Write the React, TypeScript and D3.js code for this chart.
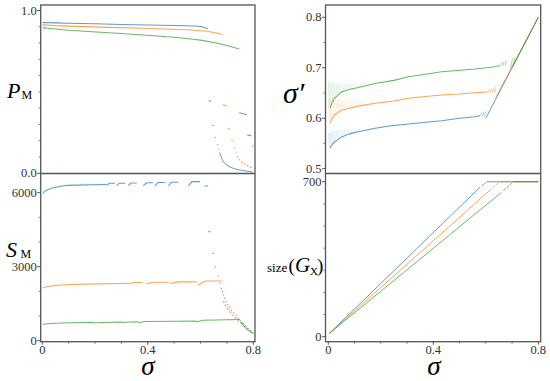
import React from "react";
import * as d3 from "d3";

type P = [number, number];
type Seg = [number, number, number, number];
type Tooth = [number, number, number];
type Step = [number, number, number, number];

const BLUE = "#1f77b4";
const ORANGE = "#ff7f0e";
const GREEN = "#2ca02c";

// ---------- ticks ----------
const sigmaTicks = [0, 0.4, 0.8];
const sigmaTickLabels = ["0", "0.4", "0.8"];
const sigmaMinor = [0.1, 0.2, 0.3, 0.5, 0.6, 0.7];
const pmTicks = [0, 1];
const pmTickLabels = ["0.0", "1.0"];
const pmMinor = [0.1, 0.2, 0.3, 0.4, 0.5, 0.6, 0.7, 0.8, 0.9];
const spTicks = [0.5, 0.6, 0.7, 0.8];
const spTickLabels = ["0.5", "0.6", "0.7", "0.8"];
const spMinor = [0.55, 0.65, 0.75];
const smTicks = [0, 3000, 6000];
const smTickLabels = ["0", "3000", "6000"];
const smMinor = [1000, 2000, 4000, 5000];
const gxTicks = [0, 700];
const gxTickLabels = ["0", "700"];
const gxMinor = [100, 200, 300, 400, 500, 600];

// ---------- P_M (top left) ----------
const pmBlue: P[] = [[0.002, 0.926], [0.05, 0.924], [0.1, 0.922], [0.2, 0.918], [0.3, 0.914], [0.4, 0.911], [0.5, 0.908], [0.58, 0.905], [0.6, 0.902], [0.615, 0.895], [0.627, 0.888]];
const pmOrange: P[] = [[0.002, 0.912], [0.05, 0.907], [0.1, 0.904], [0.22, 0.898], [0.41, 0.89], [0.55, 0.882], [0.6, 0.876], [0.62, 0.874], [0.65, 0.865], [0.67, 0.858], [0.682, 0.852]];
const pmGreen: P[] = [[0.002, 0.894], [0.05, 0.886], [0.1, 0.879], [0.22, 0.867], [0.3, 0.859], [0.41, 0.847], [0.5, 0.836], [0.58, 0.822], [0.6, 0.818], [0.66, 0.8], [0.7, 0.785], [0.747, 0.763]];
const pmStartSpread: Seg[] = [[0.004, 0.87, 0.004, 0.935], [0.008, 0.875, 0.008, 0.93], [0.012, 0.88, 0.012, 0.925]];
const pmBlueDrop: Seg[] = [[0.631, 0.447, 0.64, 0.441], [0.645, 0.296, 0.649, 0.292], [0.655, 0.222, 0.658, 0.219], [0.663, 0.178, 0.666, 0.175], [0.669, 0.149, 0.671, 0.146]];
const pmBlueTail: P[] = [[0.673, 0.128], [0.68, 0.092], [0.69, 0.063], [0.7, 0.05], [0.712, 0.039], [0.725, 0.03], [0.743, 0.022], [0.76, 0.017], [0.775, 0.013], [0.798, 0.008]];
const pmOrangeDrop: Seg[] = [[0.684, 0.421, 0.7, 0.414], [0.704, 0.277, 0.712, 0.271], [0.717, 0.204, 0.722, 0.2], [0.726, 0.16, 0.73, 0.156], [0.733, 0.127, 0.736, 0.123]];
const pmOrangeTail: P[] = [[0.738, 0.106], [0.747, 0.084], [0.756, 0.069], [0.769, 0.055], [0.781, 0.043], [0.794, 0.035], [0.8, 0.032]];
const pmGreenDrop: Seg[] = [[0.746, 0.372, 0.776, 0.36], [0.777, 0.236, 0.793, 0.23], [0.795, 0.168, 0.8, 0.165]];

// ---------- sigma' (top right) ----------
const spBlue: P[] = [[0.006, 0.541], [0.015, 0.548], [0.025, 0.5535], [0.04, 0.559], [0.051, 0.563], [0.08, 0.569], [0.114, 0.573], [0.178, 0.58], [0.24, 0.585], [0.305, 0.5886], [0.37, 0.592], [0.432, 0.595], [0.5, 0.6], [0.559, 0.603], [0.578, 0.605]];
const spOrange: P[] = [[0.006, 0.59], [0.015, 0.6], [0.025, 0.607], [0.051, 0.616], [0.08, 0.62], [0.114, 0.624], [0.178, 0.6296], [0.25, 0.634], [0.305, 0.6395], [0.37, 0.643], [0.432, 0.646], [0.5, 0.648], [0.559, 0.6506], [0.605, 0.652]];
const spGreen: P[] = [[0.006, 0.62], [0.015, 0.632], [0.025, 0.64], [0.051, 0.6526], [0.08, 0.657], [0.114, 0.661], [0.178, 0.669], [0.25, 0.675], [0.305, 0.682], [0.37, 0.687], [0.432, 0.692], [0.5, 0.695], [0.559, 0.6975], [0.62, 0.701], [0.654, 0.704]];
const spBlueDiag: P[] = [[0.6, 0.6], [0.8, 0.8]];
const spOrangeDiag: P[] = [[0.64, 0.643], [0.8, 0.8]];
const spGreenDiag: P[] = [[0.703, 0.703], [0.8, 0.8]];
const spBlueSlash: Seg[] = [[0.58, 0.604, 0.585, 0.611], [0.587, 0.604, 0.592, 0.612], [0.594, 0.603, 0.6, 0.614]];
const spOrangeSlash: Seg[] = [[0.608, 0.651, 0.613, 0.658], [0.616, 0.651, 0.621, 0.659], [0.624, 0.651, 0.63, 0.661], [0.632, 0.65, 0.638, 0.663]];
const spGreenSlash: Seg[] = [[0.657, 0.704, 0.662, 0.711], [0.665, 0.704, 0.67, 0.712], [0.673, 0.704, 0.679, 0.714], [0.694, 0.7, 0.702, 0.718], [0.703, 0.701, 0.711, 0.722]];
const spBlueFan: Tooth[] = [[0.004, 0.54, 0.57], [0.009, 0.545, 0.572], [0.014, 0.548, 0.573], [0.02, 0.551, 0.574], [0.026, 0.554, 0.575], [0.033, 0.557, 0.576], [0.04, 0.559, 0.576], [0.048, 0.562, 0.577], [0.057, 0.564, 0.577], [0.066, 0.566, 0.578], [0.076, 0.568, 0.578], [0.087, 0.57, 0.579], [0.099, 0.572, 0.579], [0.112, 0.573, 0.58]];
const spOrangeFan: Tooth[] = [[0.004, 0.587, 0.64], [0.009, 0.595, 0.64], [0.014, 0.6, 0.639], [0.02, 0.604, 0.639], [0.026, 0.607, 0.638], [0.033, 0.61, 0.638], [0.04, 0.612, 0.637], [0.048, 0.614, 0.637], [0.057, 0.616, 0.636], [0.066, 0.618, 0.636], [0.076, 0.619, 0.635], [0.087, 0.62, 0.635], [0.099, 0.622, 0.634], [0.112, 0.623, 0.634], [0.126, 0.625, 0.633], [0.141, 0.626, 0.633]];
const spGreenFan: Tooth[] = [[0.004, 0.617, 0.672], [0.009, 0.628, 0.672], [0.014, 0.634, 0.671], [0.02, 0.638, 0.671], [0.026, 0.641, 0.67], [0.033, 0.644, 0.67], [0.04, 0.647, 0.669], [0.048, 0.649, 0.669], [0.057, 0.651, 0.669], [0.066, 0.653, 0.668], [0.076, 0.655, 0.668], [0.087, 0.656, 0.668], [0.099, 0.658, 0.668], [0.112, 0.66, 0.668], [0.126, 0.661, 0.668], [0.141, 0.663, 0.669]];

// ---------- S_M (bottom left) ----------
const smBlue: P[] = [[0.002, 5960], [0.01, 6060], [0.02, 6120], [0.035, 6180], [0.05, 6220], [0.07, 6260], [0.09, 6290], [0.12, 6300], [0.16, 6310], [0.2, 6320], [0.244, 6330]];
const smBlueComb: Tooth[] = [[0.095, 6280, 6350], [0.103, 6285, 6352], [0.111, 6288, 6355], [0.119, 6290, 6357], [0.127, 6292, 6360], [0.135, 6294, 6362], [0.143, 6296, 6364], [0.151, 6298, 6366], [0.16, 6300, 6368], [0.169, 6302, 6370], [0.178, 6304, 6372], [0.188, 6306, 6374], [0.198, 6308, 6376], [0.209, 6310, 6378], [0.22, 6312, 6380], [0.232, 6314, 6382]];
const smBlueTeeth: Step[] = [[0.244, 0.276, 6290, 6380], [0.282, 0.314, 6290, 6385], [0.326, 0.358, 6285, 6390], [0.383, 0.421, 6275, 6400], [0.427, 0.465, 6275, 6410], [0.478, 0.516, 6270, 6420], [0.554, 0.598, 6280, 6450], [0.615, 0.629, 6270, 6270]];
const smBlueDrop: Seg[] = [[0.63, 4430, 0.637, 4410], [0.646, 3550, 0.65, 3530], [0.655, 3010, 0.659, 2990], [0.665, 2630, 0.668, 2610], [0.672, 2340, 0.675, 2320]];
const smBlueTail: P[] = [[0.678, 2150], [0.684, 1950], [0.69, 1780], [0.696, 1600], [0.705, 1420], [0.715, 1250], [0.73, 1080], [0.745, 900], [0.76, 720], [0.775, 560], [0.79, 400], [0.8, 300]];
const smOrange: P[] = [[0.002, 2140], [0.02, 2200], [0.05, 2240], [0.09, 2270], [0.15, 2290], [0.2, 2300], [0.25, 2310], [0.3, 2320], [0.33, 2325]];
const smOrangeComb: Tooth[] = [[0.1, 2265, 2320], [0.11, 2268, 2322], [0.12, 2270, 2324], [0.13, 2272, 2326], [0.14, 2274, 2328], [0.15, 2276, 2330], [0.161, 2278, 2332], [0.172, 2280, 2334], [0.184, 2282, 2336], [0.197, 2284, 2338], [0.21, 2286, 2340], [0.224, 2288, 2342], [0.24, 2290, 2344]];
const smOrangeTeeth: Step[] = [[0.33, 0.38, 2300, 2360], [0.395, 0.48, 2310, 2370], [0.485, 0.585, 2320, 2385], [0.59, 0.68, 2250, 2420]];
const smOrangeTail: P[] = [[0.686, 1620], [0.692, 1480], [0.7, 1330], [0.71, 1180], [0.72, 1060], [0.735, 900], [0.75, 760], [0.765, 600], [0.78, 450], [0.8, 300]];
const smGreen: P[] = [[0.002, 670], [0.03, 700], [0.08, 720], [0.15, 735], [0.19, 745], [0.195, 715], [0.22, 740], [0.3, 760], [0.31, 735], [0.33, 760], [0.36, 770], [0.37, 740], [0.39, 775], [0.5, 790], [0.58, 800], [0.585, 770], [0.61, 830], [0.7, 850], [0.75, 860]];
const smGreenTail: P[] = [[0.752, 760], [0.76, 650], [0.77, 540], [0.78, 440], [0.79, 360], [0.8, 300]];

// ---------- size(G_X) (bottom right) ----------
const gxBlue: P[] = [[0.004, 15], [0.578, 675]];
const gxOrange: P[] = [[0.004, 15], [0.622, 668]];
const gxGreen: P[] = [[0.004, 15], [0.66, 652]];
const gxBlueStep: Seg[] = [[0.585, 680, 0.592, 688], [0.594, 690, 0.6, 696]];
const gxOrangeStep: Seg[] = [[0.628, 675, 0.636, 684], [0.64, 686, 0.648, 694]];
const gxGreenStep: Seg[] = [[0.667, 660, 0.676, 670], [0.68, 673, 0.69, 684], [0.693, 686, 0.7, 694]];
const gxBluePlateau: P[] = [[0.603, 700], [0.8, 700]];
const gxOrangePlateau: P[] = [[0.655, 700], [0.8, 700]];
const gxGreenPlateau: P[] = [[0.705, 700], [0.8, 700]];

// ---------- layout ----------
const FRAME = "#555";
const SERIF = "'Liberation Serif', 'Times New Roman', serif";
const LX0 = 40.7, LX1 = 255;
const RX0 = 325.5, RX1 = 540.7;
const TY0 = 5, MY = 173.5, BY1 = 341.7;

const xL = d3.scaleLinear().domain([0, 0.8]).range([42.3, 253.3]);
const xR = d3.scaleLinear().domain([0, 0.8]).range([328.3, 538.3]);
const yPM = d3.scaleLinear().domain([0, 1]).range([173.3, 10.5]);
const ySP = d3.scaleLinear().domain([0.5, 0.8]).range([168.7, 17.3]);
const ySM = d3.scaleLinear().domain([0, 6000]).range([340.7, 192.7]);
const yGX = d3.scaleLinear().domain([0, 700]).range([336.7, 181.7]);

type Sc = d3.ScaleLinear<number, number>;

const LW = 1.05;
const LOP = 0.72;

function Series({ xs, ys, data, color, op = LOP, w = LW, dash }: { xs: Sc; ys: Sc; data: P[]; color: string; op?: number; w?: number; dash?: string }) {
  const line = d3.line<P>().x((d) => xs(d[0])).y((d) => ys(d[1]));
  return <path d={line(data) || ""} fill="none" stroke={color} strokeOpacity={op} strokeWidth={w} strokeDasharray={dash} strokeLinecap="butt" strokeLinejoin="round" />;
}

function Segs({ xs, ys, data, color, op = LOP, w = 1.2 }: { xs: Sc; ys: Sc; data: Seg[]; color: string; op?: number; w?: number }) {
  return (
    <g stroke={color} strokeOpacity={op} strokeWidth={w}>
      {data.map((s, i) => (
        <line key={i} x1={xs(s[0])} y1={ys(s[1])} x2={xs(s[2])} y2={ys(s[3])} />
      ))}
    </g>
  );
}

function Fan({ xs, ys, data, color, op = 0.22, w = 0.7, lean = 0.004 }: { xs: Sc; ys: Sc; data: Tooth[]; color: string; op?: number; w?: number; lean?: number }) {
  return (
    <g stroke={color} strokeOpacity={op} strokeWidth={w} fill="none">
      {data.map((t, i) => (
        <path key={i} d={`M${xs(t[0] - lean)},${ys(t[2])} Q${xs(t[0])},${ys(t[1])} ${xs(t[0] + lean * 1.5)},${ys(t[1])}`} />
      ))}
    </g>
  );
}

function Comb({ xs, ys, data, color, op = 0.4, w = 0.8 }: { xs: Sc; ys: Sc; data: Tooth[]; color: string; op?: number; w?: number }) {
  return (
    <g stroke={color} strokeOpacity={op} strokeWidth={w}>
      {data.map((t, i) => (
        <line key={i} x1={xs(t[0])} y1={ys(t[1])} x2={xs(t[0]) + 0.8} y2={ys(t[2])} />
      ))}
    </g>
  );
}

function Teeth({ xs, ys, data, color, op = LOP, w = LW }: { xs: Sc; ys: Sc; data: Step[]; color: string; op?: number; w?: number }) {
  return (
    <g stroke={color} strokeOpacity={op} strokeWidth={w} fill="none">
      {data.map((t, i) => {
        const a = xs(t[0]), b = xs(t[1]);
        const m = a + (b - a) * 0.3;
        return <path key={i} d={`M${a},${ys(t[2])} L${m},${ys(t[3])} L${b},${ys(t[3])}`} />;
      })}
    </g>
  );
}

function YAxis({ x, ys, ticks, labels, minor }: { x: number; ys: Sc; ticks: number[]; labels: string[]; minor: number[] }) {
  return (
    <g>
      {ticks.map((t, i) => (
        <g key={"t" + i}>
          <line x1={x - 3.5} x2={x} y1={ys(t)} y2={ys(t)} stroke={FRAME} strokeWidth={1} />
          <text x={x - 4} y={ys(t)} dy="0.33em" textAnchor="end" fontFamily={SERIF} fontSize={12.5} fill="#333">
            {labels[i]}
          </text>
        </g>
      ))}
      {minor.map((t, i) => (
        <line key={"m" + i} x1={x - 2} x2={x} y1={ys(t)} y2={ys(t)} stroke={FRAME} strokeWidth={0.8} />
      ))}
    </g>
  );
}

function XAxis({ y, xs }: { y: number; xs: Sc }) {
  return (
    <g>
      {sigmaTicks.map((t, i) => (
        <g key={"t" + i}>
          <line x1={xs(t)} x2={xs(t)} y1={y} y2={y + 3} stroke={FRAME} strokeWidth={1} />
          <text x={xs(t)} y={y + 12.5} textAnchor="middle" fontFamily={SERIF} fontSize={12.5} fill="#333">
            {sigmaTickLabels[i]}
          </text>
        </g>
      ))}
      {sigmaMinor.map((t, i) => (
        <line key={"m" + i} x1={xs(t)} x2={xs(t)} y1={y} y2={y + 2} stroke={FRAME} strokeWidth={0.8} />
      ))}
    </g>
  );
}

export default function App() {
  return (
    <svg width={550} height={381} viewBox="0 0 550 381" style={{ position: "absolute", left: 0, top: 0, background: "#fff" }}>
      <rect x={0} y={0} width={550} height={381} fill="#fff" />

      {/* ---- top left: P_M ---- */}
      <Segs xs={xL} ys={yPM} data={pmStartSpread} color={GREEN} op={0.2} w={0.8} />
      <Series xs={xL} ys={yPM} data={pmBlue} color={BLUE} />
      <Series xs={xL} ys={yPM} data={pmOrange} color={ORANGE} />
      <Series xs={xL} ys={yPM} data={pmGreen} color={GREEN} />
      <Segs xs={xL} ys={yPM} data={pmBlueDrop} color={BLUE} />
      <Series xs={xL} ys={yPM} data={pmBlueTail} color={BLUE} w={1} />
      <Segs xs={xL} ys={yPM} data={pmOrangeDrop} color={ORANGE} />
      <Series xs={xL} ys={yPM} data={pmOrangeTail} color={ORANGE} w={1.1} dash="2,1.5" />
      <Segs xs={xL} ys={yPM} data={pmGreenDrop} color={GREEN} />

      {/* ---- top right: sigma' ---- */}
      <Fan xs={xR} ys={ySP} data={spBlueFan} color={BLUE} />
      <Fan xs={xR} ys={ySP} data={spOrangeFan} color={ORANGE} />
      <Fan xs={xR} ys={ySP} data={spGreenFan} color={GREEN} />
      <Series xs={xR} ys={ySP} data={spBlue} color={BLUE} />
      <Segs xs={xR} ys={ySP} data={spBlueSlash} color={BLUE} op={0.5} w={0.8} />
      <Series xs={xR} ys={ySP} data={spBlueDiag} color={BLUE} w={1} />
      <Series xs={xR} ys={ySP} data={spOrange} color={ORANGE} />
      <Segs xs={xR} ys={ySP} data={spOrangeSlash} color={ORANGE} op={0.5} w={0.8} />
      <Series xs={xR} ys={ySP} data={spOrangeDiag} color={ORANGE} w={1} />
      <Series xs={xR} ys={ySP} data={spGreen} color={GREEN} />
      <Segs xs={xR} ys={ySP} data={spGreenSlash} color={GREEN} op={0.5} w={0.8} />
      <Series xs={xR} ys={ySP} data={spGreenDiag} color={GREEN} w={1} />

      {/* ---- bottom left: S_M ---- */}
      <Series xs={xL} ys={ySM} data={smBlue} color={BLUE} />
      <Comb xs={xL} ys={ySM} data={smBlueComb} color={BLUE} />
      <Teeth xs={xL} ys={ySM} data={smBlueTeeth} color={BLUE} />
      <Segs xs={xL} ys={ySM} data={smBlueDrop} color={BLUE} />
      <Series xs={xL} ys={ySM} data={smBlueTail} color={BLUE} w={1} dash="1.5,2" />
      <Series xs={xL} ys={ySM} data={smOrange} color={ORANGE} />
      <Comb xs={xL} ys={ySM} data={smOrangeComb} color={ORANGE} />
      <Teeth xs={xL} ys={ySM} data={smOrangeTeeth} color={ORANGE} />
      <Series xs={xL} ys={ySM} data={smOrangeTail} color={ORANGE} w={1.1} dash="2.5,1.5" />
      <Series xs={xL} ys={ySM} data={smGreen} color={GREEN} />
      <Series xs={xL} ys={ySM} data={smGreenTail} color={GREEN} w={1.1} />

      {/* ---- bottom right: size(G_X) ---- */}
      <Series xs={xR} ys={yGX} data={gxBlue} color={BLUE} w={1} />
      <Segs xs={xR} ys={yGX} data={gxBlueStep} color={BLUE} w={1} />
      <Series xs={xR} ys={yGX} data={gxBluePlateau} color={BLUE} />
      <Series xs={xR} ys={yGX} data={gxOrange} color={ORANGE} w={1} />
      <Segs xs={xR} ys={yGX} data={gxOrangeStep} color={ORANGE} w={1} />
      <Series xs={xR} ys={yGX} data={gxOrangePlateau} color={ORANGE} />
      <Series xs={xR} ys={yGX} data={gxGreen} color={GREEN} w={1} />
      <Segs xs={xR} ys={yGX} data={gxGreenStep} color={GREEN} w={1} />
      <Series xs={xR} ys={yGX} data={gxGreenPlateau} color={GREEN} />

      {/* ---- frames ---- */}
      <g fill="none" stroke={FRAME} strokeWidth={1.3}>
        <rect x={LX0} y={TY0} width={LX1 - LX0} height={BY1 - TY0} />
        <line x1={LX0} x2={LX1} y1={MY} y2={MY} />
        <rect x={RX0} y={TY0} width={RX1 - RX0} height={BY1 - TY0} />
        <line x1={RX0} x2={RX1} y1={MY} y2={MY} />
      </g>

      {/* ---- axes ---- */}
      <YAxis x={LX0} ys={yPM} ticks={pmTicks} labels={pmTickLabels} minor={pmMinor} />
      <YAxis x={RX0} ys={ySP} ticks={spTicks} labels={spTickLabels} minor={spMinor} />
      <YAxis x={LX0} ys={ySM} ticks={smTicks} labels={smTickLabels} minor={smMinor} />
      <YAxis x={RX0} ys={yGX} ticks={gxTicks} labels={gxTickLabels} minor={gxMinor} />
      <XAxis y={BY1} xs={xL} />
      <XAxis y={BY1} xs={xR} />

      {/* ---- axis titles ---- */}
      <g fontFamily={SERIF} fill="#000">
        <text x={7} y={98} fontSize={22} fontStyle="italic">P</text>
        <text x={21.5} y={99} fontSize={12}>M</text>
        <text x={6} y={257} fontSize={22} fontStyle="italic">S</text>
        <text x={20.5} y={258} fontSize={12}>M</text>
        <text x={283} y={103} fontSize={30} fontStyle="italic">σ′</text>
        <text x={148} y={375} fontSize={27} fontStyle="italic" textAnchor="middle">σ</text>
        <text x={434} y={375} fontSize={27} fontStyle="italic" textAnchor="middle">σ</text>
        <text x={267} y={272} fontSize={13}>size</text>
        <text x={288.5} y={272} fontSize={19}>(</text>
        <text x={295} y={272} fontSize={21} fontStyle="italic">G</text>
        <text x={310} y={275} fontSize={11}>X</text>
        <text x={317} y={272} fontSize={19}>)</text>
      </g>
    </svg>
  );
}
